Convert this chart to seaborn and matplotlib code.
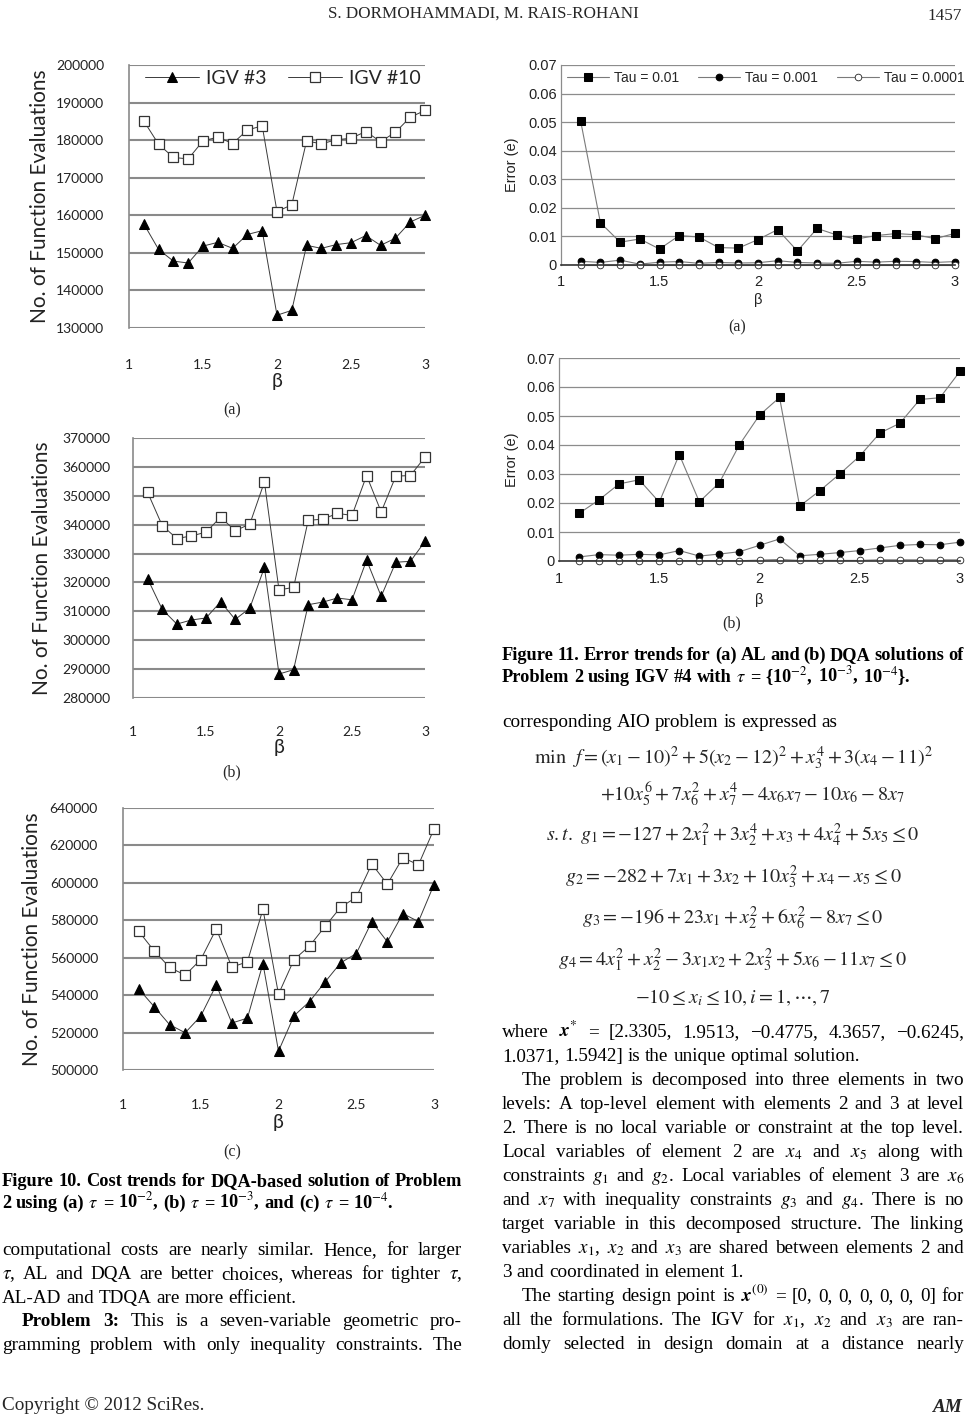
import matplotlib
matplotlib.use("Agg")
import numpy as np
import pandas as pd
import seaborn as sns
import matplotlib.pyplot as plt

W, H = 966, 1414

# beta values shared by every chart
beta = [1.1, 1.2, 1.3, 1.4, 1.5, 1.6, 1.7, 1.8, 1.9, 2.0,
        2.1, 2.2, 2.3, 2.4, 2.5, 2.6, 2.7, 2.8, 2.9, 3.0]

# Figure 10 (a) tau = 1e-2
igv3_a = [157700, 150900, 147800, 147300, 151800, 152800, 151200, 154900, 155900, 133400,
          134700, 152000, 151200, 152200, 152700, 154600, 152000, 153900, 158200, 160000]
igv10_a = [185100, 178900, 175400, 175000, 179800, 180800, 179100, 182700, 183800, 161000,
           162800, 179800, 179000, 180100, 180500, 182300, 179600, 182100, 186100, 187900]
# Figure 10 (b) tau = 1e-3
igv3_b = [321300, 310700, 305600, 307000, 307700, 313300, 307200, 311100, 325200, 288300,
          289800, 312300, 313200, 314600, 314000, 327700, 315200, 327000, 327300, 334200]
igv10_b = [351200, 339700, 335200, 336100, 337400, 342600, 337900, 340200, 354800, 317400,
           318300, 341500, 341900, 343900, 343200, 357000, 344400, 356800, 357000, 363400]
# Figure 10 (c) tau = 1e-4
igv3_c = [543400, 533900, 524200, 519900, 528800, 545500, 525100, 527700, 556900, 510100,
          529000, 536600, 547100, 557300, 562200, 579300, 568500, 583600, 579300, 599100]
igv10_c = [574200, 563700, 554800, 550700, 559000, 575400, 555000, 557800, 585900, 540500,
           559000, 566300, 576800, 587000, 592300, 610100, 599300, 613500, 609600, 628800]

# Figure 11 (a) AL errors
tau2_al = [0.0503, 0.0148, 0.0080, 0.0091, 0.0056, 0.0103, 0.0098, 0.0061, 0.0059, 0.0089,
           0.0124, 0.0049, 0.0128, 0.0105, 0.0091, 0.0103, 0.0110, 0.0106, 0.0092, 0.0111]
tau3_al = [0.0013, 0.0009, 0.0017, 0.0003, 0.0010, 0.0012, 0.0006, 0.0009, 0.0007, 0.0008,
           0.0015, 0.0009, 0.0007, 0.0006, 0.0013, 0.0010, 0.0013, 0.0012, 0.0009, 0.0012]
tau4_al = [0.0001, 0.0001, 0.0001, 0.0001, 0.0001, 0.0001, 0.0001, 0.0001, 0.0001, 0.0001,
           0.0001, 0.0001, 0.0001, 0.0001, 0.0001, 0.0001, 0.0001, 0.0001, 0.0001, 0.0001]
# Figure 11 (b) DQA errors
tau2_dqa = [0.0164, 0.0211, 0.0266, 0.0280, 0.0203, 0.0367, 0.0204, 0.0270, 0.0401, 0.0503,
            0.0564, 0.0189, 0.0242, 0.0300, 0.0362, 0.0441, 0.0475, 0.0557, 0.0563, 0.0654]
tau3_dqa = [0.0014, 0.0022, 0.0020, 0.0023, 0.0021, 0.0036, 0.0017, 0.0024, 0.0032, 0.0054,
            0.0076, 0.0018, 0.0023, 0.0029, 0.0036, 0.0045, 0.0054, 0.0057, 0.0056, 0.0065]
tau4_dqa = [0.0001, 0.0001, 0.0001, 0.0001, 0.0001, 0.0001, 0.0001, 0.0001, 0.0001, 0.0003,
            0.0005, 0.0002, 0.0002, 0.0002, 0.0002, 0.0004, 0.0004, 0.0004, 0.0004, 0.0004]

beta_ticks = [1, 1.5, 2, 2.5, 3]
beta_labels = ["1", "1.5", "2", "2.5", "3"]
err_ticks = [0, 0.01, 0.02, 0.03, 0.04, 0.05, 0.06, 0.07]
err_labels = ["0", "0.01", "0.02", "0.03", "0.04", "0.05", "0.06", "0.07"]

sns.set_theme(style="white")
plt.rcParams["font.family"] = ["Liberation Serif", "DejaVu Serif"]
plt.rcParams["mathtext.fontset"] = "stix"

CAL = ["Lato", "DejaVu Sans"]      # stands in for Calibri
ARI = ["Liberation Sans", "DejaVu Sans"]
SERIF = ["Liberation Serif", "DejaVu Serif"]

fig = plt.figure(figsize=(W / 100, H / 100), dpi=100)
page = fig.add_axes([0, 0, 1, 1])
page.set_xlim(0, W)
page.set_ylim(H, 0)
page.axis("off")
renderer = fig.canvas.get_renderer()


def box(l, t, r, b):
    return [l / W, 1 - b / H, (r - l) / W, (b - t) / H]


def cost_chart(rect, y3, y10, lo, hi, step, ypad, xpad, ylab_x, blab_y, legend=False):
    ax = fig.add_axes(box(*rect))
    sns.lineplot(x=beta, y=y3, ax=ax, color="#3a3a3a", lw=0.7, marker="^", markersize=7.5,
                 markerfacecolor="black", markeredgecolor="black", label="IGV #3", clip_on=False)
    sns.lineplot(x=beta, y=y10, ax=ax, color="#3a3a3a", lw=0.7, marker="s", markersize=7.5,
                 markerfacecolor="white", markeredgecolor="#333333", markeredgewidth=0.9,
                 label="IGV #10", clip_on=False)
    ax.set_xlim(1, 3)
    ax.set_ylim(lo, hi)
    ax.set_yticks(range(lo, hi + 1, step))
    ax.set_yticklabels([str(v) for v in range(lo, hi + 1, step)])
    ax.set_xticks(beta_ticks)
    ax.set_xticklabels(beta_labels)
    ax.grid(axis="y", color="#8a8a8a", lw=1.5)
    ax.set_axisbelow(True)
    for s in ["top", "right", "bottom"]:
        ax.spines[s].set_visible(False)
    ax.spines["left"].set_color("#8a8a8a")
    ax.spines["left"].set_linewidth(1.2)
    ax.tick_params(axis="y", length=0, pad=ypad, labelsize=10, labelfontfamily=CAL[0], colors="#222222")
    ax.tick_params(axis="x", length=0, pad=xpad, labelsize=10, labelfontfamily=CAL[0], colors="#222222")
    ax.set_ylabel("No. of Function Evaluations", fontsize=15, family=CAL, color="#222222")
    ax.yaxis.label.set_va("center")
    ax.yaxis.set_label_coords(ylab_x, 0.5)
    ax.set_xlabel("β", fontsize=14, family=CAL, color="#222222")
    ax.xaxis.label.set_va("center")
    ax.xaxis.set_label_coords(0.5, blab_y)
    if legend:
        ax.legend(loc="center", bbox_to_anchor=(0.52, 0.95), ncol=2, frameon=False,
                  prop={"family": CAL, "size": 14}, handlelength=2.8, columnspacing=1.1,
                  handletextpad=0.35)
    else:
        ax.get_legend().remove()
    return ax


def error_chart(rect, e2, e3, e4, ylab_x, blab_y, xpad, legend=False):
    ax = fig.add_axes(box(*rect))
    sns.lineplot(x=beta, y=e2, ax=ax, color="#7a7a7a", lw=0.8, marker="s", markersize=5.2,
                 markerfacecolor="black", markeredgecolor="black", label="Tau = 0.01", clip_on=False)
    sns.lineplot(x=beta, y=e3, ax=ax, color="#7a7a7a", lw=0.8, marker="o", markersize=4.8,
                 markerfacecolor="black", markeredgecolor="black", label="Tau = 0.001", clip_on=False)
    sns.lineplot(x=beta, y=e4, ax=ax, color="#7a7a7a", lw=0.8, marker="o", markersize=4.8,
                 markerfacecolor="white", markeredgecolor="#222222", markeredgewidth=0.6,
                 label="Tau = 0.0001", clip_on=False)
    ax.set_xlim(1, 3)
    ax.set_ylim(0, 0.07)
    ax.set_yticks(err_ticks)
    ax.set_yticklabels(err_labels)
    ax.set_xticks(beta_ticks)
    ax.set_xticklabels(beta_labels)
    ax.grid(axis="y", color="#8c8c8c", lw=0.9)
    ax.set_axisbelow(True)
    for s in ["top", "right"]:
        ax.spines[s].set_visible(False)
    ax.spines["left"].set_color("#8c8c8c")
    ax.spines["left"].set_linewidth(0.9)
    ax.spines["bottom"].set_color("#333333")
    ax.spines["bottom"].set_linewidth(1.2)
    ax.tick_params(axis="y", length=0, pad=3, labelsize=10.5, labelfontfamily=ARI[0], colors="#222222")
    ax.tick_params(axis="x", length=0, pad=xpad, labelsize=10.5, labelfontfamily=ARI[0], colors="#222222")
    ax.set_ylabel("Error (e)", fontsize=10.5, family=ARI, color="#222222")
    ax.yaxis.label.set_va("center")
    ax.yaxis.set_label_coords(ylab_x, 0.5)
    ax.set_xlabel("β", fontsize=10.5, family=ARI, color="#222222")
    ax.xaxis.label.set_va("center")
    ax.xaxis.set_label_coords(0.5, blab_y)
    if legend:
        ax.legend(loc="center", bbox_to_anchor=(0.52, 0.935), ncol=3, frameon=False,
                  prop={"family": ARI, "size": 10}, handlelength=3.0, columnspacing=1.4,
                  handletextpad=0.35)
    else:
        ax.get_legend().remove()
    return ax


cost_chart((129, 65, 425, 328), igv3_a, igv10_a, 130000, 200000, 10000, 18, 22, -0.30, -0.205, legend=True)
cost_chart((133, 438, 425, 698), igv3_b, igv10_b, 280000, 370000, 10000, 16, 20, -0.312, -0.192)
cost_chart((123, 808, 434, 1070), igv3_c, igv10_c, 500000, 640000, 20000, 18, 21, -0.293, -0.202)
error_chart((561, 65, 955, 265), tau2_al, tau3_al, tau4_al, -0.124, -0.175, 7, legend=True)
error_chart((559, 358, 960, 561), tau2_dqa, tau3_dqa, tau4_dqa, -0.117, -0.192, 8)

# ---- page text ----
BODY = 13.8
CAP = 13.2


def math_ok(s):
    t = page.text(0, 0, s)
    try:
        t.get_window_extent(renderer)
        ok = True
    except Exception:
        ok = False
    t.remove()
    return ok


BX = r"\mathbfit{x}" if math_ok(r"$\mathbfit{x}$") else r"\mathbf{x}"


def put_line(s, x0, y, x1=None, size=BODY, bold=False, indent=0):
    items = []
    for w in s.split():
        b = bold or w.startswith("@")
        w = w.lstrip("@")
        items.append(page.text(0, y, w, fontsize=size, family=SERIF, va="baseline", ha="left",
                               fontweight="bold" if b else "normal", color="black"))
    widths = [t.get_window_extent(renderer).width for t in items]
    start = x0 + indent
    if x1 is None or len(items) < 2:
        gap = size * 100 / 72 * 0.25
    else:
        gap = (x1 - start - sum(widths)) / (len(items) - 1)
    x = start
    for t, w in zip(items, widths):
        t.set_x(x)
        x += w + gap


# header
page.text(483, 18, "S. DORMOHAMMADI, M. RAIS-ROHANI", fontsize=12.3, family=SERIF,
          ha="center", va="baseline")
page.text(962, 20, "1457", fontsize=12.3, family=SERIF, ha="right", va="baseline")

# sub-figure labels
for x, y, s in [(232, 414, "(a)"), (232, 776, "(b)"), (232, 1156, "(c)"),
                (737, 331, "(a)"), (732, 627, "(b)")]:
    page.text(x, y, s, fontsize=11.5, family=SERIF, ha="center", va="baseline")

# left column text
LX0, LX1 = 2, 462
put_line("Figure 10. Cost trends for DQA-based solution of Problem", LX0, 1186, LX1, size=CAP, bold=True)
put_line(r"2 using (a) $\tau$ = 10$^{-2}$, (b) $\tau$ = 10$^{-3}$, and (c) $\tau$ = 10$^{-4}$.",
         LX0, 1208, size=CAP, bold=True)
put_line("computational costs are nearly similar. Hence, for larger", LX0, 1255, LX1)
put_line(r"$\tau$, AL and DQA are better choices, whereas for tighter $\tau$,", LX0, 1279, LX1)
put_line("AL-AD and TDQA are more efficient.", LX0, 1303)
put_line("@Problem @3: This is a seven-variable geometric pro-", LX0, 1326, LX1, indent=20)
put_line("gramming problem with only inequality constraints. The", LX0, 1350, LX1)
page.text(2, 1410, "Copyright © 2012 SciRes.", fontsize=BODY, family=SERIF, ha="left", va="baseline")

# right column text
RX0, RX1 = 502, 964
put_line("Figure 11. Error trends for (a) AL and (b) DQA solutions of", RX0, 660, RX1, size=CAP, bold=True)
put_line(r"Problem 2 using IGV #4 with $\tau$ = {10$^{-2}$, 10$^{-3}$, 10$^{-4}$}.",
         RX0, 682, size=CAP, bold=True)
put_line("corresponding AIO problem is expressed as", RX0, 727)

EQ = 14.5
eqs = [
    (733, 764, "center", r"$\mathrm{min}\ \ f=\left(x_1-10\right)^2+5\left(x_2-12\right)^2+x_3^4+3\left(x_4-11\right)^2$"),
    (600, 801, "left", r"$+10x_5^6+7x_6^2+x_7^4-4x_6x_7-10x_6-8x_7$"),
    (733, 841, "center", r"$s.t.\ g_1=-127+2x_1^2+3x_2^4+x_3+4x_4^2+5x_5\leq 0$"),
    (733, 883, "center", r"$g_2=-282+7x_1+3x_2+10x_3^2+x_4-x_5\leq 0$"),
    (733, 924, "center", r"$g_3=-196+23x_1+x_2^2+6x_6^2-8x_7\leq 0$"),
    (733, 966, "center", r"$g_4=4x_1^2+x_2^2-3x_1x_2+2x_3^2+5x_6-11x_7\leq 0$"),
    (733, 1003, "center", r"$-10\leq x_i\leq 10, i=1,\cdots,7$"),
]
for x, y, ha, s in eqs:
    page.text(x, y, s, fontsize=EQ, ha=ha, va="baseline")

body = [
    ("where $" + BX + r"^{*}$ = [2.3305, 1.9513, −0.4775, 4.3657, −0.6245,", True, 0),
    ("1.0371, 1.5942] is the unique optimal solution.", False, 0),
    ("The problem is decomposed into three elements in two", True, 20),
    ("levels: A top-level element with elements 2 and 3 at level", True, 0),
    ("2. There is no local variable or constraint at the top level.", True, 0),
    (r"Local variables of element 2 are $x_4$ and $x_5$ along with", True, 0),
    (r"constraints $g_1$ and $g_2$. Local variables of element 3 are $x_6$", True, 0),
    (r"and $x_7$ with inequality constraints $g_3$ and $g_4$. There is no", True, 0),
    ("target variable in this decomposed structure. The linking", True, 0),
    (r"variables $x_1$, $x_2$ and $x_3$ are shared between elements 2 and", True, 0),
    ("3 and coordinated in element 1.", False, 0),
    ("The starting design point is $" + BX + r"^{(0)}$ = [0, 0, 0, 0, 0, 0, 0] for", True, 20),
    (r"all the formulations. The IGV for $x_1$, $x_2$ and $x_3$ are ran-", True, 0),
    ("domly selected in design domain at a distance nearly", True, 0),
]
for i, (s, just, ind) in enumerate(body):
    put_line(s, RX0, 1037 + 24 * i, RX1 if just else None, indent=ind)

page.text(963, 1412, "AM", fontsize=BODY, family=SERIF, fontweight="bold", fontstyle="italic",
          ha="right", va="baseline")

fig.savefig("out.png", dpi=100)
